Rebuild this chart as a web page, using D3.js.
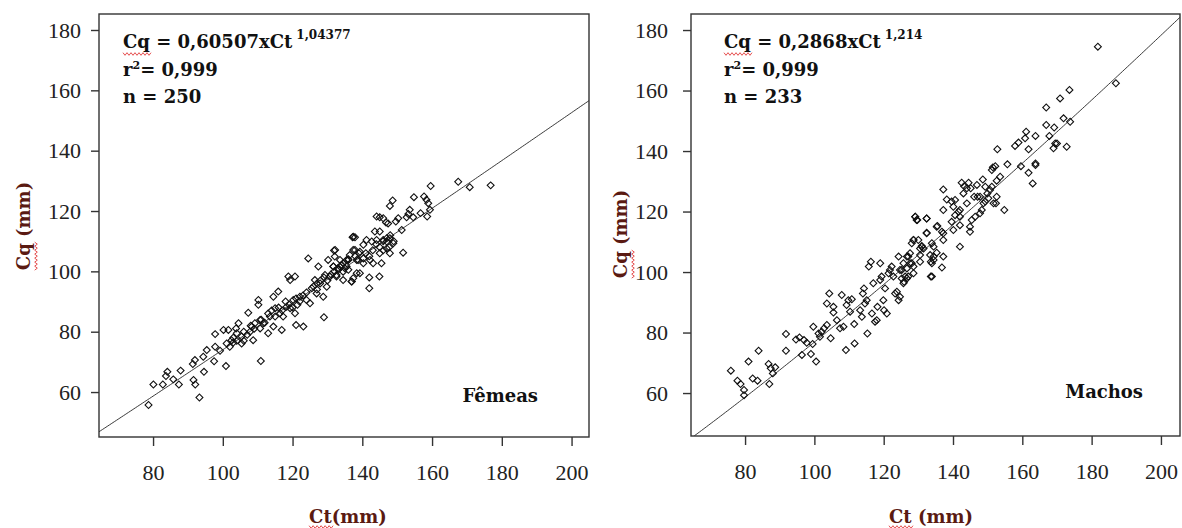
<!DOCTYPE html>
<html lang="pt">
<head>
    <meta charset="UTF-8">
    <title>Cq x Ct - Fêmeas e Machos</title>
    <style>
        body {
            margin: 0;
            background: #fff;
        }
        .tick text {
            font: 22px 'Liberation Serif', serif;
            fill: #222;
        }
        .eq, .title, .group {
            font-family: 'DejaVu Serif', serif;
            font-weight: bold;
        }
    </style>
</head>
<body>
    <div id="chart"></div>

    <script src="https://d3js.org/d3.v7.min.js"></script>
    <script>
        // valores (Ct, Cq)
        const femeas = [
            [78.7,55.7],[80.1,62.5],[82.8,62.5],[83.7,65.3],[84.1,66.7],[85.8,64.2],[87.4,62.5],[87.9,67.1],
            [91.6,64.0],[92.1,62.5],[93.3,58.2],[91.4,69.3],[92.0,70.6],[94.4,71.7],[94.6,66.7],[95.4,73.9],
            [97.5,70.2],[97.8,75.0],[97.8,79.2],[99.2,73.7],[100.2,80.6],[100.9,68.6],[101.1,76.1],[101.6,80.6],
            [102.5,77.2],[103.0,76.4],[103.8,81.1],[104.5,82.8],[104.0,79.5],[105.4,78.4],[105.4,76.1],[107.3,86.3],
            [107.8,80.0],[108.3,81.7],[108.7,77.2],[109.2,82.8],[110.2,90.5],[110.2,88.9],[110.7,83.9],[110.7,81.1],
            [110.9,70.3],[111.6,82.8],[113.0,79.5],[113.5,85.0],[114.5,91.6],[114.5,81.7],[115.0,87.8],[115.9,93.3],
            [116.4,86.1],[116.9,80.6],[117.3,85.0],[118.3,88.3],[118.8,98.3],[119.3,97.1],[119.3,87.8],[120.2,90.5],
            [120.7,98.3],[120.7,86.1],[121.0,82.2],[121.4,88.9],[122.1,91.6],[123.1,81.7],[124.0,90.5],[124.5,104.3],
            [125.0,89.4],[125.5,94.4],[126.4,97.1],[126.9,92.7],[127.4,101.6],[127.9,96.0],[128.8,91.6],[129.0,84.8],
            [129.3,98.8],[129.8,94.9],[130.2,103.8],[130.7,98.3],[131.7,101.6],[131.9,106.9],[132.1,104.9],[132.6,98.3],
            [133.1,100.5],[134.1,102.1],[134.5,97.1],[135.5,101.6],[136.0,103.8],[137.0,96.6],[137.4,111.5],[137.9,107.1],
            [138.4,99.4],[138.8,103.8],
            [159.6,128.3],[167.5,129.7],[170.8,127.9],[176.8,128.5],[154.8,124.6],[157.7,124.8],[158.4,123.7],[158.9,122.6],
            [159.4,120.4],[158.6,118.2],[156.7,119.3],[153.6,120.4],[153.2,119.0],[152.7,117.9],[154.6,117.9],[148.7,123.5],
            [147.9,121.7],[150.3,117.6],[149.6,116.5],[151.3,113.7],[147.4,115.9],[146.0,117.6],[144.1,118.2],[145.0,117.9],
            [146.8,116.2],[148.9,109.3],[147.0,109.9],[147.7,108.0],[143.6,113.2],[145.0,113.2],[147.9,111.0],[146.0,110.4],
            [144.1,110.4],[142.7,109.9],[141.2,110.4],[140.3,108.8],[137.9,111.3],[137.2,111.3],[151.7,106.2],[147.9,106.0],
            [147.0,107.6],[145.0,106.0],[145.5,102.7],[143.1,102.7],[142.2,103.8],[140.3,104.3],[139.3,106.5],[137.4,107.1],
            [136.4,105.4],[135.5,103.8],[134.5,102.7],[133.6,101.6],[131.7,101.6],[132.2,107.1],[132.6,98.8],[130.7,98.3],
            [134.5,99.9],[137.4,97.7],[136.9,96.6],[139.3,99.4],[142.0,98.0],[144.9,98.3],[142.0,94.4],[140.3,102.7],
            [138.4,103.8],[136.0,100.5],[133.6,103.8],
            [103,78],[104,77],[106,80],[107,79],[108,82],[109,81],[111,84],[112,83],[106,77],[102,75],
            [113,86],[114,87],[116,88],[117,87],[118,90],[119,89],[121,91],[122,90],[123,92],[124,93],[115,85],[120,88],
            [126,95],[127,96],[128,97],[129,98],[131,99],[132,100],[133,101],[134,102],[135,101],[136,104],[138,105],[139,106],
            [127,94],[130,97],[141,106],[143,107],[144,109],[145,108],[146,110],[147,111],[148,112],[149,110],[142,105],[146,107]
        ];

        const machos = [
            [75.9,67.4],[77.8,64.1],[78.7,63.0],[79.7,61.0],[79.7,59.3],[81.0,70.4],[82.2,64.8],[83.6,64.1],
            [83.9,74.0],[86.8,69.6],[87.0,63.0],[87.4,68.2],[88.0,66.5],[88.7,68.5],[91.8,79.5],[91.8,74.0],
            [94.7,77.7],[95.7,78.4],[96.4,72.6],[97.0,77.5],[97.8,76.6],[99.0,72.9],[99.5,76.2],[99.7,81.9],
            [100.5,70.4],[101.2,79.7],[101.6,78.6],[102.1,80.3],[102.8,81.4],[103.6,82.5],[104.3,92.9],[103.6,89.6],
            [104.7,78.1],[105.5,88.5],[105.5,86.6],[106.5,84.1],[107.4,81.4],[107.9,92.4],[108.4,81.9],[109.1,74.2],
            [109.3,89.1],[109.8,90.7],[110.3,86.9],[110.8,91.0],[111.5,82.8],[111.6,76.4],[113.2,87.4],[113.7,85.2],
            [114.0,92.9],[114.3,94.6],[114.6,89.6],[115.1,90.7],[115.3,79.7],[115.7,101.8],[116.3,103.4],[116.6,86.3],
            [117.0,96.3],[117.5,83.6],[118.0,84.1],[118.2,88.5],[119.0,102.9],[119.0,97.4],[119.4,98.5],[119.9,90.7],
            [120.1,87.4],[120.4,94.6],[120.9,86.3],[121.4,99.6],[121.8,100.7],[122.3,101.8],[122.8,98.5],[123.3,92.9],
            [123.8,93.5],[124.3,105.1],[124.3,90.7],[124.7,91.8],[125.2,100.7],[125.7,96.3],[125.9,96.8],[126.7,97.9],
            [127.1,105.1],[127.6,106.2],[128.1,102.9],[128.6,110.6],[129.1,118.3],[129.7,117.2],[130.0,110.6],[130.5,107.8],
            [131.0,108.4],[132.4,117.7],[132.4,112.8],[133.4,105.6],[133.6,103.4],[133.9,98.5],[134.4,105.1],[135.5,115.2],
            [181.8,174.5],[187.0,162.4],[173.6,160.2],[170.9,157.4],[166.9,154.4],[171.9,150.8],[173.8,149.7],[166.9,148.6],
            [169.2,147.8],[167.8,145.0],[169.5,142.5],[170.0,142.5],[169.0,140.9],[172.8,141.4],[161.1,146.4],[160.8,144.2],
            [163.8,145.0],[158.9,142.8],[157.9,141.7],[152.8,140.6],[161.8,140.6],[159.6,135.0],[163.8,135.9],[163.8,135.4],
            [161.8,132.8],[163.0,129.3],[155.7,135.6],[152.2,135.0],[151.5,134.6],[151.2,133.7],[153.6,131.5],[152.6,130.2],
            [148.6,130.6],[146.9,128.8],[144.5,129.5],[142.5,129.5],[151.2,128.2],[150.7,127.1],[149.9,126.0],[149.3,123.3],
            [148.8,122.7],[148.3,120.5],[147.8,119.4],[146.4,118.3],[145.4,117.2],[144.9,115.0],[144.9,113.3],[152.6,124.9],
            [152.4,122.7],[151.7,122.7],[150.2,124.4],[147.1,124.9],[146.1,124.9],[145.1,127.7],[144.0,127.7],[143.0,126.0],
            [143.2,128.4],[137.2,127.3],[138.2,124.0],[139.6,123.3],[140.6,123.8],[140.1,121.6],[141.6,119.9],[142.0,120.5],
            [142.0,118.3],[140.6,118.8],[137.2,120.5],[139.6,116.6],[136.8,113.3],[137.2,112.8],[135.3,115.0],[132.4,113.0],
            [133.9,109.5],[131.0,108.6],[131.5,107.8],[129.1,118.3],[129.5,117.2],[132.4,117.7],[128.6,110.6],[128.1,109.5],
            [137.2,105.1],[136.8,101.5],[142.0,108.4],[135.3,106.4],[134.4,104.0],[133.9,102.9],[133.6,98.5],[126.7,105.1],
            [125.7,102.9],[127.6,102.9],[128.6,101.8],[124.7,100.7],[127.1,98.5],[128.6,99.6],[126.2,98.5],[125.2,97.9],
            [154.8,120.5],[149.3,128.2],[147.8,124.9],[144.0,122.7],[142.0,115.5],[140.1,113.9],[137.2,110.6],[134.4,108.4],
            [130.5,105.6],[130.5,103.4],[126.7,101.2]
        ];

        const xTicks = [80, 100, 120, 140, 160, 180, 200];
        const yTicks = [60, 80, 100, 120, 140, 160, 180];

        // Cq = a x Ct^b
        const fitA = [0.60507, 0.2868];
        const fitB = [1.04377, 1.214];
        const fitAText = ["0,60507", "0,2868"];
        const fitBText = ["1,04377", "1,214"];
        const r2Text = ["0,999", "0,999"];
        const nText = ["250", "233"];
        const groupNames = ["Fêmeas", "Machos"];
        const xTitles = ["Ct(mm)", "Ct (mm)"];
        const yTitle = "Cq (mm)";

        const panels = [
            {left: 99, right: 589, top: 14, bottom: 437, xDom: [64.5, 205], yDom: [45.1, 185.3],
             yPad: 10, eqX: 123, groupX: 538, groupY: 402, yTitleX: 24, yTitleY: 226, xTitleX: 348},
            {left: 691, right: 1180, top: 14, bottom: 436, xDom: [64.4, 205.5], yDom: [45.8, 185.3],
             yPad: 15, eqX: 724, groupX: 1143, groupY: 398, yTitleX: 621, yTitleY: 234, xTitleX: 931}
        ];
        const series = [femeas, machos];

        const svg = d3.select("#chart")
          .append("svg")
            .attr("width", 1182)
            .attr("height", 528);

        function squiggle(g, x0, y0, w) {
            const pts = [];
            for (let i = 0; i <= Math.ceil(w / 2); i++) {
                pts.push([x0 + i * 2, y0 + (i % 2 ? 1.3 : -1.3)]);
            }
            g.append("path")
                .attr("d", d3.line()(pts))
                .attr("fill", "none")
                .attr("stroke", "#e23b3b")
                .attr("stroke-width", 0.9);
        }

        panels.forEach((p, i) => {
            const x = d3.scaleLinear().domain(p.xDom).range([p.left, p.right]);
            const y = d3.scaleLinear().domain(p.yDom).range([p.bottom, p.top]);
            const g = svg.append("g");

            g.append("clipPath").attr("id", "clip" + i)
              .append("rect")
                .attr("x", p.left).attr("y", p.top)
                .attr("width", p.right - p.left).attr("height", p.bottom - p.top);

            // curva ajustada
            const cts = d3.range(p.xDom[0], p.xDom[1] + 0.5, 0.5);
            g.append("path")
                .datum(cts)
                .attr("clip-path", `url(#clip${i})`)
                .attr("d", d3.line().x(d => x(d)).y(d => y(fitA[i] * Math.pow(d, fitB[i]))))
                .attr("fill", "none")
                .attr("stroke", "#222")
                .attr("stroke-width", 0.9);

            // pontos
            g.selectAll(".pt")
                .data(series[i])
                .join("path")
                .attr("class", "pt")
                .attr("d", d3.symbol(d3.symbolSquare, 24))
                .attr("transform", d => `translate(${x(d[0])},${y(d[1])}) rotate(45)`)
                .attr("fill", "none")
                .attr("stroke", "#111")
                .attr("stroke-width", 1.1);

            // caixa
            g.append("rect")
                .attr("x", p.left).attr("y", p.top)
                .attr("width", p.right - p.left).attr("height", p.bottom - p.top)
                .attr("fill", "none")
                .attr("stroke", "#333")
                .attr("stroke-width", 1.4);

            const xAxis = g.append("g")
                .attr("transform", `translate(0,${p.bottom})`)
                .call(d3.axisBottom(x).tickValues(xTicks).tickSize(9).tickPadding(18));
            const yAxis = g.append("g")
                .attr("transform", `translate(${p.left},0)`)
                .call(d3.axisLeft(y).tickValues(yTicks).tickSize(8).tickPadding(p.yPad));
            [xAxis, yAxis].forEach(a => {
                a.select(".domain").remove();
                a.selectAll(".tick line").attr("stroke", "#333").attr("stroke-width", 1.4);
            });

            // equação
            const eq = g.append("text").attr("class", "eq")
                .attr("x", p.eqX).attr("y", 48)
                .attr("font-size", 18).attr("fill", "#111");
            eq.append("tspan").text(`Cq = ${fitAText[i]}xCt`);
            eq.append("tspan").attr("dx", 4).attr("dy", -9).attr("font-size", 12).text(fitBText[i]);
            squiggle(g, p.eqX, 54, eq.node().getSubStringLength(0, 2));

            const r2 = g.append("text").attr("class", "eq")
                .attr("x", p.eqX).attr("y", 76)
                .attr("font-size", 18).attr("fill", "#111");
            r2.append("tspan").text("r");
            r2.append("tspan").attr("dy", -7).attr("font-size", 11).text("2");
            r2.append("tspan").attr("dy", 7).text(`= ${r2Text[i]}`);

            g.append("text").attr("class", "eq")
                .attr("x", p.eqX).attr("y", 103)
                .attr("font-size", 18).attr("fill", "#111")
                .text(`n = ${nText[i]}`);

            g.append("text").attr("class", "group")
                .attr("x", p.groupX).attr("y", p.groupY)
                .attr("text-anchor", "end")
                .attr("font-size", 18).attr("fill", "#111")
                .text(groupNames[i]);

            // títulos dos eixos
            const yt = g.append("g")
                .attr("transform", `translate(${p.yTitleX},${p.yTitleY}) rotate(-90)`);
            const ytText = yt.append("text").attr("class", "title")
                .attr("text-anchor", "middle").attr("dy", "0.35em")
                .attr("font-size", 18).attr("fill", "#5a1a12")
                .text(yTitle);
            const yw = ytText.node().getComputedTextLength();
            squiggle(yt, -yw / 2, 12, ytText.node().getSubStringLength(0, 2));

            const xt = g.append("text").attr("class", "title")
                .attr("x", p.xTitleX).attr("y", 523)
                .attr("text-anchor", "middle")
                .attr("font-size", 18).attr("fill", "#5a1a12")
                .text(xTitles[i]);
            const xw = xt.node().getComputedTextLength();
            squiggle(g, p.xTitleX - xw / 2, 527, xt.node().getSubStringLength(0, 2));
        });
    </script>
</body>
</html>
